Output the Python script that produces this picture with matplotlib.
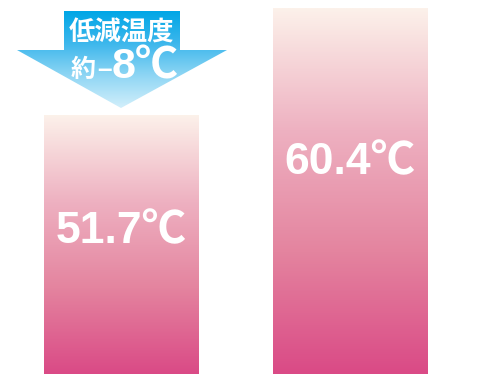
import numpy as np
import matplotlib.pyplot as plt
from matplotlib.colors import LinearSegmentedColormap
from matplotlib.patches import Polygon

plt.rcParams['font.family'] = ['Liberation Sans', 'Noto Sans CJK JP', 'DejaVu Sans']

labels = ['51.7℃', '60.4℃']
temps = [51.7, 60.4]
diff_title = '低減温度'
diff_text = '約−8℃'

fig = plt.figure(figsize=(4.83, 3.74), dpi=100)
ax = fig.add_axes([0, 0, 1, 1])
ax.set_xlim(-0.532, 1.582)
ax.set_ylim(30.9, 61.05)
ax.axis('off')

pink = LinearSegmentedColormap.from_list('pink', ['#da4a86', '#e4849f', '#eeb1c1', '#fcf1ea'])
grad = np.linspace(0, 1, 256).reshape(-1, 1)
width = 0.678
label_pos = [0.55, 0.577]
bars = ax.bar(range(len(temps)), temps, width=width, bottom=0, color='none')
y0 = ax.get_ylim()[0]
for b, lab, f in zip(bars, labels, label_pos):
    x0, x1 = b.get_x(), b.get_x() + b.get_width()
    top = b.get_height()
    ax.imshow(grad, cmap=pink, aspect='auto', origin='lower',
              extent=(x0, x1, y0, top), zorder=1)
    ax.text(b.get_x() + b.get_width() / 2, y0 + (top - y0) * f, lab,
            ha='center', va='center', color='white', fontsize=32,
            fontweight='bold', family=['Liberation Sans', 'Noto Sans CJK JP'], zorder=3)

# arrow showing the reduction, drawn in pixel coordinates
ov = fig.add_axes([0, 0, 1, 1])
ov.set_xlim(0, 483)
ov.set_ylim(374, 0)
ov.axis('off')
ov.patch.set_alpha(0)
pts = [(64, 11), (180, 11), (180, 50), (227, 50), (121, 108), (17, 50), (64, 50)]
poly = Polygon(pts, closed=True, facecolor='none', edgecolor='none')
ov.add_patch(poly)
blue = LinearSegmentedColormap.from_list('blue', ['#00a6e6', '#3db7ec', '#8fd6f4', '#d2effb'])
im = ov.imshow(grad, cmap=blue, aspect='auto', origin='upper',
               extent=(17, 227, 108, 11), zorder=2)
im.set_clip_path(poly)
ov.set_xlim(0, 483)
ov.set_ylim(374, 0)
ov.text(121, 33, diff_title, ha='center', va='center', color='white',
        fontsize=19, fontweight='bold', family=['Noto Sans CJK JP'], zorder=3)
ov.text(83, 70, diff_text[0], ha='center', va='center', color='white',
        fontsize=18, fontweight='bold', family=['Noto Sans CJK JP'], zorder=3)
ov.text(105, 70, '–', ha='center', va='center', color='white',
        fontsize=19, fontweight='bold', zorder=3)
ov.text(112, 67, diff_text[2:], ha='left', va='center', color='white',
        fontsize=31, fontweight='bold', family=['Liberation Sans', 'Noto Sans CJK JP'], zorder=3)

fig.savefig('out.png', dpi=100)
